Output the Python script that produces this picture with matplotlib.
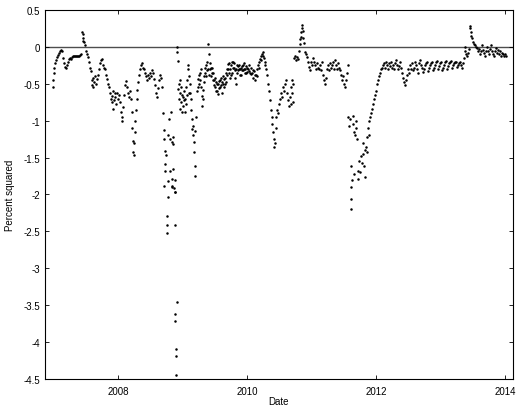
import matplotlib
matplotlib.use("Agg")
import matplotlib.pyplot as plt

# (decimal year, value), one list per year
pts_2007 = [
    (2007.000, -0.54), (2007.000, -0.45), (2007.004, -0.36), (2007.008, -0.28),
    (2007.023, -0.22), (2007.039, -0.18), (2007.054, -0.14), (2007.070, -0.11),
    (2007.085, -0.08), (2007.101, -0.06), (2007.116, -0.04), (2007.132, -0.05),
    (2007.147, -0.15), (2007.163, -0.22), (2007.178, -0.27), (2007.194, -0.29),
    (2007.209, -0.25), (2007.225, -0.20), (2007.240, -0.17), (2007.256, -0.15),
    (2007.271, -0.16), (2007.287, -0.14), (2007.302, -0.12), (2007.318, -0.13),
    (2007.333, -0.12), (2007.349, -0.12), (2007.364, -0.13), (2007.380, -0.12),
    (2007.395, -0.12), (2007.411, -0.11), (2007.426, -0.10), (2007.442, 0.20),
    (2007.450, 0.17), (2007.457, 0.12), (2007.465, 0.08), (2007.473, 0.06),
    (2007.488, 0.02), (2007.504, -0.05), (2007.519, -0.10), (2007.535, -0.14),
    (2007.550, -0.20), (2007.566, -0.28), (2007.581, -0.33), (2007.597, -0.45),
    (2007.605, -0.55), (2007.612, -0.42), (2007.628, -0.48), (2007.643, -0.40),
    (2007.659, -0.50), (2007.674, -0.44), (2007.690, -0.38), (2007.705, -0.30),
    (2007.721, -0.22), (2007.736, -0.18), (2007.752, -0.17), (2007.767, -0.24),
    (2007.783, -0.28), (2007.798, -0.30), (2007.814, -0.38), (2007.829, -0.43),
    (2007.845, -0.50), (2007.860, -0.55), (2007.876, -0.62), (2007.891, -0.70),
    (2007.907, -0.66), (2007.922, -0.60), (2007.938, -0.72), (2007.953, -0.68),
    (2007.969, -0.78), (2007.984, -0.63), (2007.930, -0.84), (2007.915, -0.75),
    (2007.960, -0.62), (2007.600, -0.52),
]

pts_2008 = [
    (2008.000, -0.70), (2008.016, -0.65), (2008.031, -0.75), (2008.047, -0.88),
    (2008.062, -0.95), (2008.070, -1.00), (2008.078, -0.82), (2008.093, -0.65),
    (2008.109, -0.52), (2008.124, -0.46), (2008.140, -0.55), (2008.155, -0.62),
    (2008.171, -0.68), (2008.186, -0.60), (2008.202, -0.70), (2008.217, -0.88),
    (2008.225, -1.10), (2008.233, -1.28), (2008.240, -1.42), (2008.248, -1.47),
    (2008.256, -1.30), (2008.264, -1.15), (2008.271, -1.00), (2008.279, -0.85),
    (2008.295, -0.70), (2008.302, -0.58), (2008.310, -0.48), (2008.326, -0.38),
    (2008.341, -0.30), (2008.357, -0.25), (2008.372, -0.22), (2008.388, -0.28),
    (2008.403, -0.30), (2008.419, -0.35), (2008.434, -0.40), (2008.450, -0.45),
    (2008.465, -0.38), (2008.481, -0.42), (2008.496, -0.36), (2008.512, -0.40),
    (2008.527, -0.32), (2008.543, -0.36), (2008.558, -0.44), (2008.574, -0.52),
    (2008.589, -0.62), (2008.605, -0.68), (2008.620, -0.56), (2008.636, -0.45),
    (2008.651, -0.38), (2008.667, -0.42), (2008.682, -0.55), (2008.698, -0.90),
    (2008.713, -1.12), (2008.713, -1.25), (2008.713, -1.88), (2008.729, -1.41),
    (2008.729, -1.59), (2008.729, -1.68), (2008.744, -1.47), (2008.760, -2.29),
    (2008.760, -2.41), (2008.760, -2.52), (2008.771, -2.03), (2008.775, -1.82),
    (2008.775, -1.20), (2008.791, -0.98), (2008.806, -1.25), (2008.806, -1.68),
    (2008.822, -0.88), (2008.837, -1.29), (2008.837, -1.79), (2008.837, -1.90),
    (2008.840, -1.88), (2008.853, -1.22), (2008.853, -1.31), (2008.853, -1.65),
    (2008.868, -1.91), (2008.884, -2.42), (2008.884, -1.80), (2008.880, -1.96),
    (2008.888, -1.97), (2008.884, -3.62), (2008.891, -3.71), (2008.899, -4.10),
    (2008.899, -4.19), (2008.907, -4.44), (2008.915, -3.46), (2008.915, 0.00),
    (2008.922, -0.07), (2008.930, -0.19), (2008.930, -0.57), (2008.946, -0.70),
    (2008.946, -0.50), (2008.961, -0.62), (2008.961, -0.84), (2008.961, -0.45),
    (2008.977, -0.75), (2008.977, -0.55), (2008.992, -0.88), (2008.992, -0.65),
]

pts_2009 = [
    (2009.008, -0.68), (2009.008, -0.80), (2009.023, -0.72), (2009.023, -0.60),
    (2009.039, -0.88), (2009.039, -0.70), (2009.054, -0.55), (2009.054, -0.78),
    (2009.070, -0.45), (2009.070, -0.65), (2009.085, -0.25), (2009.085, -0.30),
    (2009.101, -0.40), (2009.101, -0.62), (2009.116, -0.62), (2009.116, -0.50),
    (2009.132, -0.85), (2009.132, -0.70), (2009.147, -0.98), (2009.147, -1.11),
    (2009.163, -1.07), (2009.163, -1.20), (2009.178, -1.42), (2009.178, -1.29),
    (2009.194, -1.61), (2009.194, -1.75), (2009.194, -1.14), (2009.209, -0.95),
    (2009.225, -0.60), (2009.240, -0.43), (2009.240, -0.55), (2009.256, -0.50),
    (2009.256, -0.38), (2009.271, -0.35), (2009.271, -0.45), (2009.287, -0.55),
    (2009.287, -0.30), (2009.302, -0.66), (2009.302, -0.80), (2009.318, -0.70),
    (2009.318, -0.58), (2009.333, -0.48), (2009.333, -0.40), (2009.349, -0.35),
    (2009.349, -0.28), (2009.364, -0.25), (2009.364, -0.40), (2009.380, -0.20),
    (2009.380, -0.32), (2009.395, 0.04), (2009.395, -0.30), (2009.411, -0.10),
    (2009.411, -0.38), (2009.426, -0.30), (2009.426, -0.22), (2009.442, -0.40),
    (2009.442, -0.28), (2009.457, -0.28), (2009.457, -0.35), (2009.473, -0.35),
    (2009.473, -0.45), (2009.488, -0.45), (2009.488, -0.52), (2009.504, -0.55),
    (2009.504, -0.42), (2009.519, -0.48), (2009.519, -0.60), (2009.535, -0.60),
    (2009.535, -0.50), (2009.550, -0.50), (2009.550, -0.64), (2009.566, -0.56),
    (2009.566, -0.46), (2009.581, -0.45), (2009.581, -0.55), (2009.597, -0.52),
    (2009.597, -0.42), (2009.612, -0.62), (2009.612, -0.48), (2009.628, -0.50),
    (2009.628, -0.40), (2009.643, -0.55), (2009.643, -0.44), (2009.659, -0.42),
    (2009.659, -0.50), (2009.674, -0.48), (2009.674, -0.36), (2009.690, -0.38),
    (2009.690, -0.30), (2009.705, -0.30), (2009.705, -0.23), (2009.721, -0.22),
    (2009.721, -0.35), (2009.736, -0.30), (2009.736, -0.42), (2009.752, -0.25),
    (2009.752, -0.38), (2009.767, -0.35), (2009.767, -0.20), (2009.783, -0.20),
    (2009.783, -0.28), (2009.798, -0.28), (2009.798, -0.22), (2009.814, -0.42),
    (2009.814, -0.32), (2009.829, -0.30), (2009.829, -0.50), (2009.845, -0.25),
    (2009.845, -0.36), (2009.860, -0.32), (2009.860, -0.26), (2009.876, -0.24),
    (2009.876, -0.30), (2009.891, -0.30), (2009.891, -0.38), (2009.907, -0.38),
    (2009.907, -0.28), (2009.922, -0.26), (2009.922, -0.32), (2009.938, -0.32),
    (2009.938, -0.24), (2009.953, -0.22), (2009.953, -0.30), (2009.969, -0.30),
    (2009.969, -0.36), (2009.984, -0.36), (2009.984, -0.26),
]

pts_2010 = [
    (2010.000, -0.28), (2010.000, -0.34), (2010.016, -0.30), (2010.031, -0.24),
    (2010.031, -0.33), (2010.047, -0.35), (2010.062, -0.28), (2010.062, -0.37),
    (2010.078, -0.36), (2010.093, -0.42), (2010.093, -0.32), (2010.109, -0.33),
    (2010.124, -0.45), (2010.124, -0.38), (2010.140, -0.38), (2010.155, -0.30),
    (2010.155, -0.40), (2010.171, -0.25), (2010.186, -0.20), (2010.186, -0.28),
    (2010.202, -0.16), (2010.217, -0.12), (2010.217, -0.18), (2010.233, -0.10),
    (2010.248, -0.07), (2010.248, -0.12), (2010.264, -0.15), (2010.279, -0.20),
    (2010.279, -0.25), (2010.295, -0.30), (2010.310, -0.38), (2010.326, -0.50),
    (2010.341, -0.60), (2010.357, -0.72), (2010.372, -0.85), (2010.388, -0.95),
    (2010.395, -1.05), (2010.403, -1.15), (2010.419, -1.25), (2010.426, -1.36),
    (2010.434, -1.30), (2010.450, -1.10), (2010.457, -0.95), (2010.465, -0.85),
    (2010.481, -0.90), (2010.496, -0.78), (2010.512, -0.70), (2010.527, -0.62),
    (2010.543, -0.68), (2010.558, -0.55), (2010.574, -0.60), (2010.589, -0.50),
    (2010.605, -0.45), (2010.620, -0.62), (2010.636, -0.72), (2010.651, -0.80),
    (2010.667, -0.68), (2010.682, -0.55), (2010.682, -0.78), (2010.698, -0.62),
    (2010.698, -0.45), (2010.713, -0.75), (2010.713, -0.50), (2010.729, -0.15),
    (2010.744, -0.12), (2010.760, -0.18), (2010.775, -0.14), (2010.791, -0.16),
    (2010.806, -0.05), (2010.822, 0.04), (2010.830, 0.10), (2010.837, 0.14),
    (2010.845, 0.20), (2010.853, 0.25), (2010.860, 0.30), (2010.868, 0.22),
    (2010.876, 0.12), (2010.884, 0.05), (2010.899, -0.07), (2010.915, -0.10),
    (2010.930, -0.14), (2010.946, -0.20), (2010.961, -0.27), (2010.977, -0.32),
    (2010.992, -0.20),
]

pts_2011 = [
    (2011.008, -0.25), (2011.023, -0.15), (2011.039, -0.20), (2011.054, -0.24),
    (2011.070, -0.30), (2011.085, -0.22), (2011.101, -0.28), (2011.116, -0.30),
    (2011.132, -0.25), (2011.147, -0.32), (2011.163, -0.20), (2011.178, -0.38),
    (2011.194, -0.45), (2011.209, -0.50), (2011.225, -0.42), (2011.240, -0.30),
    (2011.256, -0.25), (2011.271, -0.32), (2011.287, -0.22), (2011.302, -0.28),
    (2011.318, -0.24), (2011.333, -0.20), (2011.349, -0.30), (2011.364, -0.18),
    (2011.380, -0.25), (2011.395, -0.30), (2011.411, -0.22), (2011.426, -0.28),
    (2011.442, -0.32), (2011.457, -0.38), (2011.473, -0.45), (2011.488, -0.40),
    (2011.504, -0.50), (2011.519, -0.55), (2011.535, -0.45), (2011.550, -0.35),
    (2011.566, -0.25), (2011.574, -0.95), (2011.581, -1.07), (2011.597, -0.98),
    (2011.612, -1.61), (2011.612, -1.90), (2011.612, -2.06), (2011.612, -2.20),
    (2011.628, -1.81), (2011.643, -0.93), (2011.651, -1.05), (2011.659, -1.72),
    (2011.667, -1.15), (2011.674, -1.20), (2011.690, -1.00), (2011.698, -1.10),
    (2011.705, -1.25), (2011.721, -1.68), (2011.729, -1.79), (2011.736, -1.55),
    (2011.752, -1.70), (2011.767, -1.48), (2011.783, -1.58), (2011.798, -1.30),
    (2011.806, -1.45), (2011.814, -1.62), (2011.829, -1.76), (2011.837, -1.40),
    (2011.845, -1.35), (2011.860, -1.22), (2011.868, -1.42), (2011.876, -1.10),
    (2011.891, -1.20), (2011.899, -1.00), (2011.907, -0.95), (2011.922, -0.90),
    (2011.938, -0.84), (2011.953, -0.78), (2011.969, -0.70), (2011.984, -0.65),
]

pts_2012 = [
    (2012.000, -0.60), (2012.016, -0.50), (2012.031, -0.45), (2012.047, -0.40),
    (2012.062, -0.35), (2012.078, -0.30), (2012.093, -0.28), (2012.109, -0.25),
    (2012.124, -0.22), (2012.140, -0.28), (2012.155, -0.20), (2012.171, -0.25),
    (2012.186, -0.30), (2012.202, -0.22), (2012.217, -0.26), (2012.233, -0.20),
    (2012.248, -0.28), (2012.264, -0.24), (2012.279, -0.30), (2012.295, -0.22),
    (2012.310, -0.18), (2012.326, -0.25), (2012.341, -0.30), (2012.357, -0.26),
    (2012.372, -0.20), (2012.388, -0.28), (2012.403, -0.35), (2012.419, -0.42),
    (2012.434, -0.48), (2012.450, -0.52), (2012.465, -0.45), (2012.481, -0.38),
    (2012.496, -0.30), (2012.512, -0.35), (2012.527, -0.25), (2012.543, -0.30),
    (2012.558, -0.22), (2012.574, -0.32), (2012.589, -0.28), (2012.605, -0.20),
    (2012.620, -0.25), (2012.636, -0.30), (2012.651, -0.35), (2012.667, -0.22),
    (2012.682, -0.18), (2012.698, -0.24), (2012.713, -0.28), (2012.729, -0.34),
    (2012.744, -0.30), (2012.760, -0.25), (2012.775, -0.22), (2012.791, -0.20),
    (2012.806, -0.33), (2012.822, -0.28), (2012.837, -0.25), (2012.853, -0.22),
    (2012.868, -0.20), (2012.884, -0.32), (2012.899, -0.28), (2012.915, -0.24),
    (2012.930, -0.20), (2012.946, -0.19), (2012.961, -0.30), (2012.977, -0.26),
    (2012.992, -0.22),
]

pts_2013 = [
    (2013.008, -0.20), (2013.023, -0.32), (2013.039, -0.28), (2013.054, -0.24),
    (2013.070, -0.21), (2013.085, -0.19), (2013.101, -0.30), (2013.116, -0.26),
    (2013.132, -0.22), (2013.147, -0.20), (2013.163, -0.19), (2013.178, -0.28),
    (2013.194, -0.25), (2013.209, -0.22), (2013.225, -0.20), (2013.240, -0.20),
    (2013.256, -0.27), (2013.271, -0.24), (2013.287, -0.22), (2013.302, -0.20),
    (2013.318, -0.24), (2013.333, -0.28), (2013.349, -0.22), (2013.364, -0.15),
    (2013.380, 0.00), (2013.388, -0.05), (2013.395, -0.10), (2013.411, -0.13),
    (2013.426, -0.08), (2013.442, -0.03), (2013.457, 0.28), (2013.465, 0.25),
    (2013.473, 0.20), (2013.481, 0.15), (2013.488, 0.12), (2013.504, 0.07),
    (2013.519, 0.04), (2013.535, 0.02), (2013.550, 0.00), (2013.566, -0.02),
    (2013.581, -0.06), (2013.597, -0.03), (2013.612, -0.10), (2013.628, -0.05),
    (2013.643, 0.02), (2013.659, -0.04), (2013.674, -0.08), (2013.690, -0.12),
    (2013.705, -0.05), (2013.721, 0.00), (2013.736, -0.06), (2013.752, -0.10),
    (2013.767, -0.03), (2013.783, 0.02), (2013.798, -0.05), (2013.814, -0.09),
    (2013.829, -0.12), (2013.845, -0.06), (2013.860, -0.02), (2013.876, -0.08),
    (2013.891, -0.04), (2013.907, -0.10), (2013.922, -0.06), (2013.938, -0.12),
    (2013.953, -0.08), (2013.969, -0.10), (2013.984, -0.12), (2014.000, -0.10),
    (2014.015, -0.12),
]

year_ticks = [2008, 2010, 2012, 2014]
value_ticks = [0.5, 0, -0.5, -1, -1.5, -2, -2.5, -3, -3.5, -4, -4.5]

all_pts = pts_2007 + pts_2008 + pts_2009 + pts_2010 + pts_2011 + pts_2012 + pts_2013
dates = [p[0] for p in all_pts]
values = [p[1] for p in all_pts]

plt.rcParams['font.family'] = ['Liberation Sans', 'DejaVu Sans']
plt.rcParams['font.size'] = 7

fig = plt.figure(figsize=(5.17, 4.06), dpi=100)
ax = fig.add_axes([0.087, 0.064, 0.905, 0.909])

ax.axhline(0, color='0.3', lw=1.0, zorder=1)
ax.plot(dates, values, 'o', color='black', ms=1.8, mew=0, zorder=2)

ax.set_xlim(2006.868, 2014.124)
ax.set_ylim(-4.5, 0.5)
ax.set_xticks(year_ticks)
ax.set_xticklabels([str(y) for y in year_ticks])
ax.set_yticks(value_ticks)
ax.set_yticklabels(['%g' % v for v in value_ticks])
ax.tick_params(direction='in', top=True, right=True, length=3, width=0.6)
ax.tick_params(axis='x', pad=5)
for s in ax.spines.values():
    s.set_linewidth(0.8)

ax.set_xlabel('Date', labelpad=0)
ax.set_ylabel('Percent squared', labelpad=6)

fig.savefig('out.png', dpi=100)
